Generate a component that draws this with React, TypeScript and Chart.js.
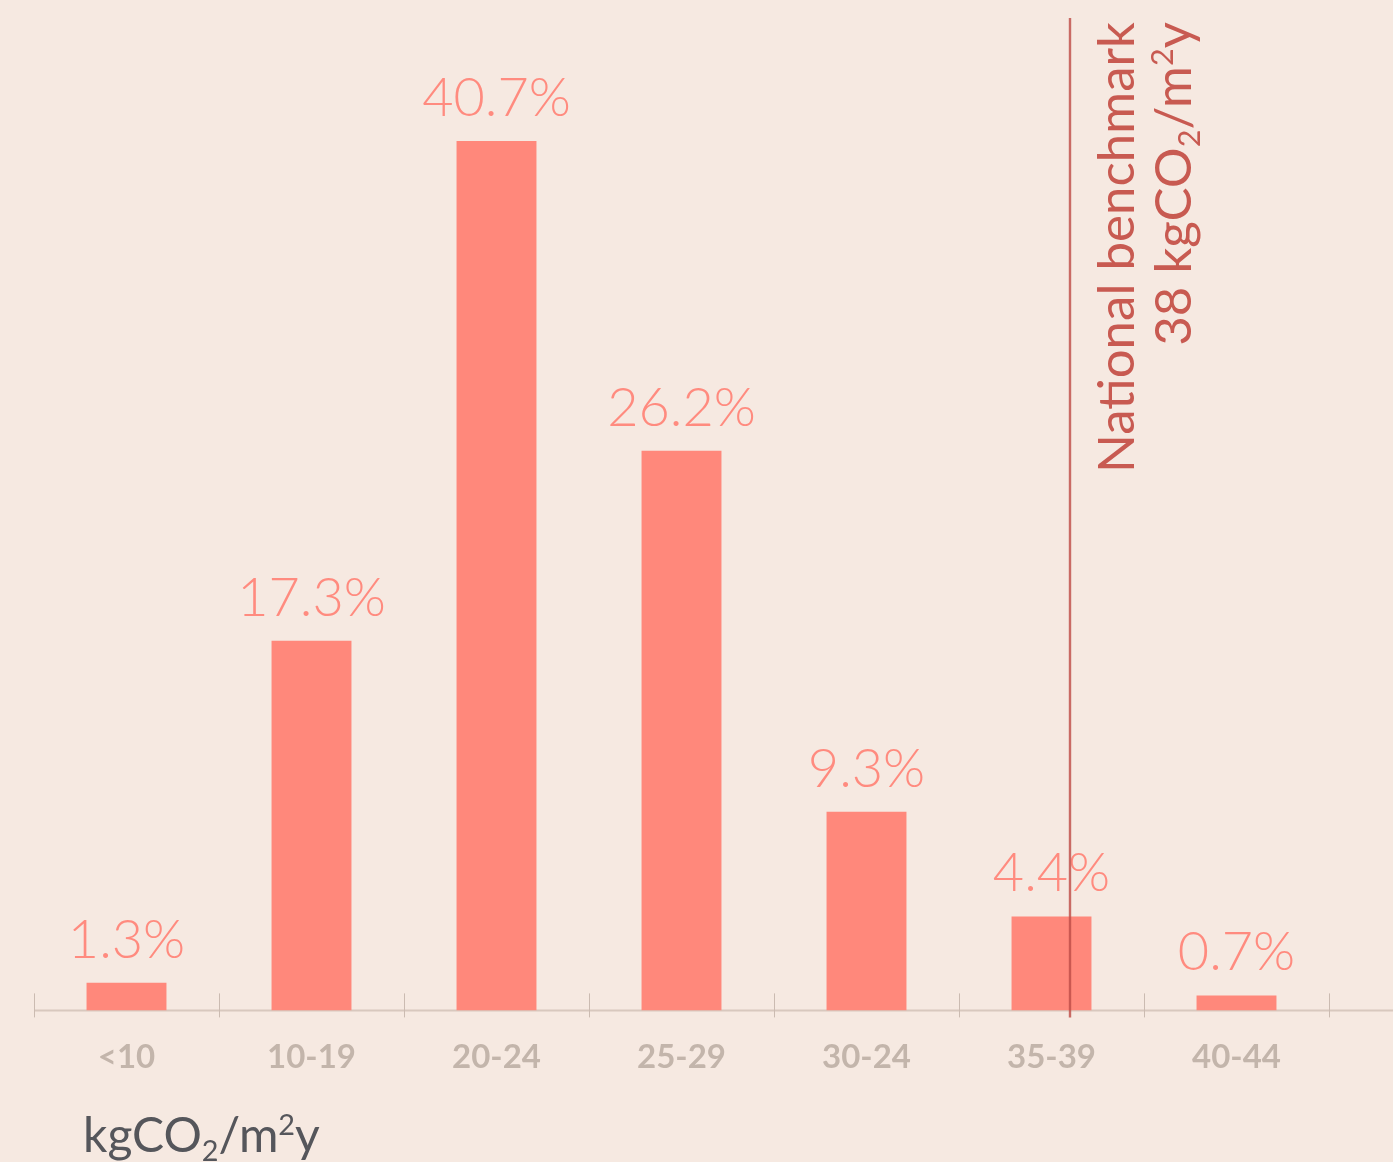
import React, { useEffect, useRef } from 'react';
import { Chart, registerables } from 'chart.js';

Chart.register(...registerables);

// ---- data ----
const categories: string[] = ['<10', '10-19', '20-24', '25-29', '30-24', '35-39', '40-44'];
const shares: number[] = [1.3, 17.3, 40.7, 26.2, 9.3, 4.4, 0.7];
const benchmarkValue = 38;
const benchmarkBinIndex = 5; // the "35-39" bin
const benchmarkBinStart = 35;
const benchmarkBinSpan = 5;
const benchmarkTitle = 'National benchmark';
const benchmarkValueText = '38 kgCO';
const yMax = 47.3;

// ---- styles ----
const W = 1393;
const H = 1162;
const BG = '#f6e9e1';
const BAR = '#ff887b';
const VALUE_COLOR = '#ff8b7f';
const CAT_COLOR = '#c3b5ab';
const AXIS_COLOR = '#d8c8be';
const TICK_COLOR = '#cbbbb1';
const BENCH_LINE = 'rgba(190, 78, 72, 0.82)';
const BENCH_TEXT = '#c85a51';
const TITLE_COLOR = '#55565b';
const FAMILY = 'Lato, "Open Sans", "DejaVu Sans", sans-serif';

type Seg = { t: string; mode?: 'sub' | 'sup' };

function segFont(size: number, weight: number | string, mode?: 'sub' | 'sup') {
  const s = mode ? size * 0.6 : size;
  return `${weight} ${s}px ${FAMILY}`;
}

function richWidth(ctx: CanvasRenderingContext2D, segs: Seg[], size: number, weight: number | string) {
  let w = 0;
  for (const s of segs) {
    ctx.font = segFont(size, weight, s.mode);
    w += ctx.measureText(s.t).width;
  }
  return w;
}

function drawRich(
  ctx: CanvasRenderingContext2D,
  segs: Seg[],
  x: number,
  y: number,
  size: number,
  weight: number | string,
  color: string,
  align: 'left' | 'right'
) {
  const total = richWidth(ctx, segs, size, weight);
  let cx = align === 'right' ? x - total : x;
  ctx.fillStyle = color;
  ctx.textAlign = 'left';
  ctx.textBaseline = 'alphabetic';
  for (const s of segs) {
    ctx.font = segFont(size, weight, s.mode);
    const dy = s.mode === 'sub' ? size * 0.17 : s.mode === 'sup' ? -size * 0.36 : 0;
    ctx.fillText(s.t, cx, y + dy);
    cx += ctx.measureText(s.t).width;
  }
}

const unitSegs = (prefix: string): Seg[] => [
  { t: prefix },
  { t: '2', mode: 'sub' },
  { t: '/m' },
  { t: '2', mode: 'sup' },
  { t: 'y' },
];

const decorPlugin = {
  id: 'decor',
  beforeDatasetsDraw(chart: any) {
    const { ctx, chartArea } = chart;
    const x = chart.scales.x;
    const n = categories.length;
    const step = x.width / n;
    ctx.save();
    ctx.strokeStyle = AXIS_COLOR;
    ctx.lineWidth = 2;
    ctx.beginPath();
    ctx.moveTo(x.left, chartArea.bottom);
    ctx.lineTo(chart.width, chartArea.bottom);
    ctx.stroke();
    ctx.strokeStyle = TICK_COLOR;
    ctx.lineWidth = 1;
    for (let i = 0; i <= n; i++) {
      const px = Math.round(x.getPixelForValue(0) - step / 2 + i * step) + 0.5;
      ctx.beginPath();
      ctx.moveTo(px, chartArea.bottom - 17);
      ctx.lineTo(px, chartArea.bottom + 7);
      ctx.stroke();
    }
    ctx.restore();
  },
  afterDatasetsDraw(chart: any) {
    const { ctx } = chart;
    const meta = chart.getDatasetMeta(0);
    ctx.save();
    ctx.font = `300 54px ${FAMILY}`;
    ctx.fillStyle = VALUE_COLOR;
    ctx.textAlign = 'center';
    ctx.textBaseline = 'alphabetic';
    meta.data.forEach((bar: any, i: number) => {
      ctx.fillText(`${shares[i]}%`, bar.x, bar.y - 25);
    });
    ctx.restore();
  },
  afterDraw(chart: any) {
    const { ctx, chartArea } = chart;
    const x = chart.scales.x;
    const step = x.width / categories.length;
    const binLeft = x.getPixelForValue(benchmarkBinIndex) - step / 2;
    const bx = binLeft + ((benchmarkValue - benchmarkBinStart) / benchmarkBinSpan) * step;
    ctx.save();
    ctx.strokeStyle = BENCH_LINE;
    ctx.lineWidth = 2.4;
    ctx.beginPath();
    ctx.moveTo(bx, 18);
    ctx.lineTo(bx, chartArea.bottom + 7);
    ctx.stroke();

    // rotated annotation
    ctx.translate(bx, 22);
    ctx.rotate(-Math.PI / 2);
    ctx.font = `400 51px ${FAMILY}`;
    ctx.fillStyle = BENCH_TEXT;
    ctx.textAlign = 'right';
    ctx.textBaseline = 'alphabetic';
    ctx.fillText(benchmarkTitle, 0, 64);
    drawRich(ctx, unitSegs(benchmarkValueText), 0, 121, 51, 400, BENCH_TEXT, 'right');
    ctx.restore();

    // axis title
    ctx.save();
    drawRich(ctx, unitSegs('kgCO'), 83, chartArea.bottom + 142, 48, 400, TITLE_COLOR, 'left');
    ctx.restore();
  },
};

export default function App() {
  const ref = useRef<HTMLCanvasElement | null>(null);

  useEffect(() => {
    document.body.style.margin = '0';
    document.body.style.background = BG;
    const canvas = ref.current;
    if (!canvas) return;
    const chart = new Chart(canvas, {
      type: 'bar',
      data: {
        labels: categories,
        datasets: [
          {
            data: shares,
            backgroundColor: BAR,
            borderWidth: 0,
            barPercentage: 0.432,
            categoryPercentage: 1,
          },
        ],
      },
      options: {
        responsive: false,
        animation: false,
        layout: { padding: { left: 34, right: 64, top: 0, bottom: 58 } },
        plugins: {
          legend: { display: false },
          tooltip: { enabled: false },
        },
        scales: {
          x: {
            grid: { display: false, drawTicks: false },
            border: { display: false },
            ticks: {
              color: CAT_COLOR,
              font: { family: FAMILY, size: 33, weight: 'bold' },
              padding: 27,
              maxRotation: 0,
              autoSkip: false,
            },
          },
          y: { display: false, min: 0, max: yMax },
        },
      },
      plugins: [decorPlugin],
    });
    return () => chart.destroy();
  }, []);

  return (
    <div style={{ width: W, height: H, background: BG, overflow: 'hidden' }}>
      <canvas ref={ref} width={W} height={H} style={{ display: 'block' }} />
    </div>
  );
}
